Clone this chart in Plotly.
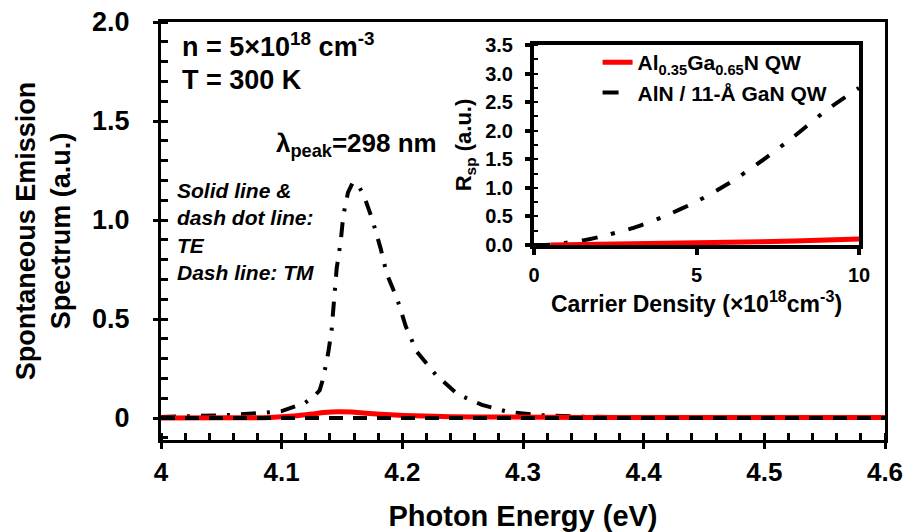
import plotly.graph_objects as go

# ---------------- main panel data ----------------
te_aln_E = [4.00, 4.03, 4.055, 4.08, 4.10, 4.119, 4.127, 4.1315, 4.1344, 4.1386, 4.1414, 4.1436, 4.1456,
            4.149, 4.151, 4.155, 4.159, 4.163, 4.168, 4.175, 4.182, 4.187, 4.196, 4.203, 4.212,
            4.2275, 4.2456, 4.266, 4.287, 4.312, 4.35, 4.40, 4.50, 4.60]
te_aln_S = [0.005, 0.008, 0.015, 0.024, 0.035, 0.075, 0.11, 0.14, 0.2, 0.33, 0.444, 0.61, 0.756,
            0.895, 1.02, 1.14, 1.19, 1.18, 1.126, 1.005, 0.857, 0.73, 0.596, 0.461, 0.335,
            0.22, 0.121, 0.066, 0.032, 0.015, 0.007, 0.004, 0.002, 0.001]

te_algan_E = [4.00, 4.05, 4.09, 4.11, 4.125, 4.135, 4.147, 4.158, 4.17, 4.19, 4.21, 4.24, 4.28,
              4.35, 4.45, 4.60]
te_algan_S = [0.0, 0.001, 0.003, 0.01, 0.02, 0.028, 0.032, 0.03, 0.024, 0.016, 0.011, 0.007,
              0.005, 0.003, 0.002, 0.002]

tm_E = [4.0, 4.1, 4.2, 4.3, 4.4, 4.5, 4.6]
tm_S = [0.0, 0.0, 0.0, 0.0, 0.0, 0.0, 0.0]

y_tickvals = [0, 0.5, 1.0, 1.5, 2.0]
y_ticktext = ["0", "0.5", "1.0", "1.5", "2.0"]

# ---------------- inset data ----------------
n_aln = [0, 0.5, 1, 1.5, 2, 3, 4, 5, 6, 7, 8, 9, 10]
rsp_aln = [0.0, 0.005, 0.04, 0.08, 0.14, 0.29, 0.5, 0.76, 1.08, 1.47, 1.9, 2.36, 2.75]
n_algan = [0.5, 1, 2, 3, 4, 5, 6, 7, 8, 9, 10]
rsp_algan = [0.0, 0.003, 0.008, 0.014, 0.022, 0.032, 0.043, 0.056, 0.07, 0.087, 0.105]

FONT = "Liberation Sans, Arial, sans-serif"
RED = "#ff0000"

fig = go.Figure()

# main panel
fig.add_trace(go.Scatter(x=te_aln_E, y=te_aln_S, mode="lines", showlegend=False,
                         line=dict(color="black", width=4, dash="15px,11px,3px,11px"),
                         xaxis="x", yaxis="y"))
fig.add_trace(go.Scatter(x=te_algan_E, y=te_algan_S, mode="lines", showlegend=False,
                         line=dict(color=RED, width=5, shape="spline", smoothing=0.8),
                         xaxis="x", yaxis="y"))
fig.add_trace(go.Scatter(x=tm_E, y=tm_S, mode="lines", showlegend=False,
                         line=dict(color="black", width=4, dash="14px,10px"),
                         xaxis="x", yaxis="y"))

# inset
fig.add_trace(go.Scatter(x=n_aln, y=rsp_aln, mode="lines", name="AlN / 11-Å GaN QW", legendrank=2,
                         line=dict(color="black", width=4, dash="16px,14px,4px,14px", shape="spline", smoothing=0.6),
                         xaxis="x2", yaxis="y2"))
fig.add_trace(go.Scatter(x=n_algan, y=rsp_algan, mode="lines",
                         name="Al<sub>0.35</sub>Ga<sub>0.65</sub>N QW", legendrank=1,
                         line=dict(color=RED, width=5),
                         xaxis="x2", yaxis="y2"))

axis_common = dict(showline=True, linecolor="black", mirror=True, showgrid=False, zeroline=False,
                   tickcolor="black", automargin=False)

fig.update_layout(
    width=909, height=532, autosize=False,
    margin=dict(l=161, r=24, t=22, b=92, autoexpand=False),
    paper_bgcolor="white", plot_bgcolor="white",
    font=dict(family=FONT, color="black", size=20, weight="bold"),
    xaxis=dict(**axis_common, domain=[0, 1], range=[4, 4.6], dtick=0.1, tick0=4,
               linewidth=3, ticks="outside", ticklen=6, tickwidth=3,
               minor=dict(dtick=0.02, ticks="inside", ticklen=7, tickwidth=3, tickcolor="black"),
               tickfont=dict(size=26, family=FONT, weight="bold"),
               ticklabelstandoff=1,
               title=dict(text="Photon Energy (eV)", font=dict(size=29, family=FONT, weight="bold"), standoff=20)),
    yaxis=dict(**axis_common, domain=[0, 1], range=[-0.111, 2.0],
               tickvals=y_tickvals, ticktext=y_ticktext,
               linewidth=3, ticks="outside", ticklen=5, tickwidth=3,
               minor=dict(dtick=0.1, tick0=0, ticks="inside", ticklen=7, tickwidth=3, tickcolor="black"),
               tickfont=dict(size=27, family=FONT, weight="bold"),
               ticklabelstandoff=18,
               title=dict(text="Spontaneous Emission<br>Spectrum (a.u.)",
                          font=dict(size=27, family=FONT, weight="bold"), standoff=14)),
    xaxis2=dict(**axis_common, domain=[0.5152, 0.9641], anchor="y2", range=[0, 10],
                tickvals=[0, 5, 10], linewidth=4, ticks="outside", ticklen=6, tickwidth=4,
                tickfont=dict(size=20, family=FONT, weight="bold"),
                ticklabelstandoff=3,
                title=dict(text="Carrier Density (×10<sup>18</sup>cm<sup>-3</sup>)",
                           font=dict(size=23, family=FONT, weight="bold"), standoff=12)),
    yaxis2=dict(**axis_common, domain=[0.4665, 0.945], anchor="x2", range=[0, 3.5],
                tickvals=[0, 0.5, 1.0, 1.5, 2.0, 2.5, 3.0, 3.5], tickformat=".1f",
                linewidth=4, ticks="outside", ticklen=5, tickwidth=4,
                minor=dict(dtick=0.25, tick0=0, ticks="inside", ticklen=4, tickwidth=2, tickcolor="black"),
                tickfont=dict(size=20, family=FONT, weight="bold"),
                ticklabelstandoff=8,
                title=dict(text="R<sub>sp</sub> (a.u.)", font=dict(size=22, family=FONT, weight="bold"),
                           standoff=8)),
    legend=dict(x=0.603, y=0.952, xanchor="left", yanchor="top", bgcolor="rgba(0,0,0,0)",
                font=dict(size=21, family=FONT, weight="bold"), itemwidth=30, tracegroupgap=0),
    annotations=[
        dict(text="n = 5×10<sup>18</sup> cm<sup>-3</sup>", xref="paper", yref="paper", x=0.026, y=0.945,
             xanchor="left", yanchor="middle", showarrow=False, font=dict(size=27, family=FONT, weight="bold")),
        dict(text="T = 300 K", xref="paper", yref="paper", x=0.026, y=0.861,
             xanchor="left", yanchor="middle", showarrow=False, font=dict(size=27, family=FONT, weight="bold")),
        dict(text="λ<sub>peak</sub>=298 nm", xref="paper", yref="paper", x=0.270, y=0.708,
             xanchor="center", yanchor="middle", showarrow=False, font=dict(size=26, family=FONT, weight="bold")),
        dict(text="<i>Solid line &<br>dash dot line:<br>TE<br>Dash line: TM</i>", xref="paper", yref="paper",
             x=0.020, y=0.500, xanchor="left", yanchor="middle", align="left", showarrow=False,
             font=dict(size=21, family=FONT, weight="bold")),
    ],
)

fig.write_html("out.html", config={"displayModeBar": False},
               post_script="document.body.style.margin='0px';")
